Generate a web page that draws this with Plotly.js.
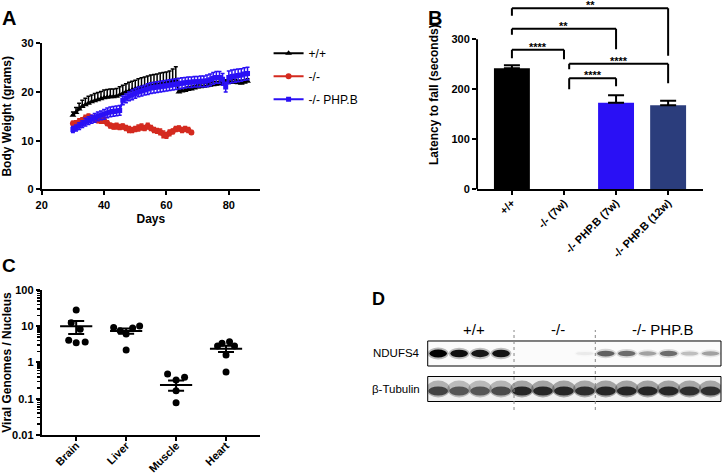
<!DOCTYPE html>
<html><head><meta charset="utf-8">
<script src="https://cdn.plot.ly/plotly-3.0.1.min.js"></script>
<style>html,body{margin:0;padding:0;background:#fff}#chart{width:722px;height:474px}</style>
</head><body><div id="chart"></div>
<script>
// ---------- Panel A: body weight ----------
const daysLong = [30,31,32,33,34,35,36,37,38,39,40,41,42,43,44,45,46,47,48,49,50,51,52,53,54,55,56,57,58,59,60,61,62,63,64,65,66,67,68,69,70,71,72,73,74,75,76,77,78,79,80,81,82,83,84,85,86];
const daysKO = [30,31,32,33,34,35,36,37,38,39,40,41,42,43,44,45,46,47,48,49,50,51,52,53,54,55,56,57,58,59,60,61,62,63,64,65,66,67,68];
const wtWeight = [15.2,15.8,16.5,17.0,17.4,17.7,18.0,18.2,18.4,18.6,18.8,18.9,19.0,19.0,19.1,19.4,19.7,20.0,20.2,20.4,20.6,20.8,21.0,21.1,21.3,21.4,21.5,21.6,21.7,21.8,21.9,22.0,22.2,22.4,20.0,20.2,20.3,20.5,20.6,20.8,21.0,21.1,21.2,21.3,21.4,21.5,21.6,21.7,21.8,21.9,22.0,22.0,22.0,21.9,21.8,22.0,22.2];
const wtErr = [0.7,1.0,1.2,1.3,1.3,1.4,1.4,1.5,1.5,1.5,1.6,1.6,1.6,1.6,1.6,1.7,1.7,1.7,1.8,1.8,1.8,1.9,1.9,2.0,2.0,2.1,2.1,2.1,2.2,2.2,2.2,2.3,2.5,2.8,0.5,0.5,0.5,0.6,0.6,0.5,0.5,0.6,0.6,0.5,0.5,0.6,0.5,0.5,0.6,0.6,0.5,0.5,0.6,0.5,0.6,0.5,0.5];
const koWeight = [13.5,13.6,13.9,14.2,14.6,14.9,14.7,14.4,14.2,14.1,14.2,13.6,13.1,12.9,13.0,12.8,12.9,12.6,12.3,12.2,12.4,12.6,12.8,12.6,13.0,12.6,12.2,12.0,11.8,11.3,11.1,11.6,11.9,12.4,12.5,12.2,12.4,12.2,11.7];
const koErr = [0.5,0.5,0.6,0.5,0.6,0.6,0.5,0.6,0.5,0.5,0.6,0.5,0.5,0.5,0.6,0.5,0.5,0.5,0.6,0.5,0.5,0.6,0.6,0.5,0.6,0.5,0.5,0.5,0.6,0.7,0.6,0.6,0.5,0.5,0.5,0.5,0.5,0.5,0.4];
const phpWeight = [12.3,12.6,13.0,13.4,13.8,14.1,14.4,14.7,15.0,15.2,15.4,15.7,15.9,16.0,16.1,16.2,18.3,18.7,19.1,19.4,19.7,20.0,20.2,20.4,20.6,20.8,20.9,21.0,21.1,21.2,21.3,21.4,21.5,21.6,21.7,21.8,21.9,22.0,22.0,22.1,22.1,22.2,22.2,22.3,22.5,22.8,23.0,23.0,22.6,21.0,23.0,23.2,23.3,23.4,23.5,23.7,23.8];
const phpErr = [0.6,0.6,0.7,0.7,0.8,0.8,0.8,0.9,0.9,0.9,1.0,1.0,1.0,1.0,1.0,1.0,0.9,0.9,0.9,1.0,1.0,1.0,1.0,1.0,1.1,1.1,1.1,1.1,1.1,1.1,1.1,1.1,1.1,1.1,1.1,1.1,1.1,1.1,1.1,1.1,1.1,1.1,1.1,1.2,1.2,1.2,1.2,1.2,1.2,1.0,1.3,1.3,1.3,1.3,1.3,1.3,1.3];
const seriesNames = ['+/+', '-/-', '-/- PHP.B'];

// ---------- Panel B: rotarod ----------
const groupsB = ['+/+', '-/- (7w)', '-/- PHP.B (7w)', '-/- PHP.B (12w)'];
const latency = [242, 0, 173, 168];
const latencyErr = [6, 0, 15, 9];
const sigFrom = [0, 0, 0, 1.1, 1.1];
const sigTo = [3, 2, 1, 3, 2];
const sigLevel = [362, 321, 279, 251, 222];
const sigLeftEnd = [347, 309, 262, 240, 200];
const sigRightEnd = [267, 280, 260, 212, 206];
const sigLabel = ['**', '**', '****', '****', '****'];

// ---------- Panel C: viral genomes ----------
const tissues = ['Brain', 'Liver', 'Muscle', 'Heart'];
const brainVG = [28, 12.5, 8.2, 4.1, 3.5, 3.7];
const brainOff = [0, -0.1, 0.08, -0.15, 0, 0.18];
const liverVG = [9.3, 7.5, 6.1, 9.0, 10.2, 2.2];
const liverOff = [-0.25, -0.12, 0, 0.13, 0.27, 0];
const muscleVG = [0.48, 0.33, 0.39, 0.166, 0.078];
const muscleOff = [-0.17, 0, 0.17, 0, 0];
const heartVG = [2.85, 3.4, 3.75, 2.85, 1.6, 0.55];
const heartOff = [-0.17, -0.08, 0.07, 0.17, 0, 0];
const vgMean = [10, 7.4, 0.24, 2.4];
const vgSemHi = [14, 8.6, 0.32, 2.9];
const vgSemLo = [6.1, 6.2, 0.165, 1.95];

// ---------- Panel D: western blot ----------
const blotGroups = ['+/+', '-/-', '-/- PHP.B'];
const blotGroupSizes = [4, 4, 6];
const ndufs4Band = [1.0, 0.92, 0.88, 0.9, 0, 0, 0, 0.05, 0.55, 0.5, 0.3, 0.5, 0.2, 0.3];
const tubulinBand = [0.7, 0.6, 0.6, 0.65, 0.85, 0.85, 0.85, 0.8, 0.85, 0.85, 0.85, 0.85, 0.8, 0.8];
const blotRows = ['NDUFS4', 'β-Tubulin'];

const FONT = 'Liberation Sans, Arial, Helvetica, sans-serif';
const BLUE = '#2a10f5', RED = '#d42a1f', NAVY = '#2b3d7c';

const traces = [];
// Panel A traces
traces.push({x: daysLong, y: wtWeight, name: seriesNames[0], type: 'scatter', mode: 'lines+markers', legendgroup: 'g1',
  line: {color: '#000', width: 2}, marker: {symbol: 'triangle-up', size: 6, color: '#000'},
  error_y: {type: 'data', array: wtErr, arrayminus: wtErr.map(() => 0), symmetric: false, color: '#000', thickness: 1.5, width: 2},
  xaxis: 'x', yaxis: 'y', showlegend: true});
traces.push({x: daysKO, y: koWeight, name: seriesNames[1], type: 'scatter', mode: 'lines+markers', legendgroup: 'g2',
  line: {color: RED, width: 2}, marker: {symbol: 'circle', size: 6, color: RED},
  error_y: {type: 'data', array: koErr, color: RED, thickness: 1.5, width: 2},
  xaxis: 'x', yaxis: 'y', showlegend: true});
traces.push({x: daysLong, y: phpWeight, name: seriesNames[2], type: 'scatter', mode: 'lines+markers', legendgroup: 'g3',
  line: {color: BLUE, width: 2}, marker: {symbol: 'square', size: 5, color: BLUE},
  error_y: {type: 'data', array: phpErr, color: BLUE, thickness: 1.5, width: 2},
  xaxis: 'x', yaxis: 'y', showlegend: true});

// Panel B bars
traces.push({x: groupsB.map((g, i) => i), y: latency, type: 'bar', width: 0.69,
  marker: {color: ['#000', '#000', BLUE, NAVY], line: {width: 0}},
  error_y: {type: 'data', array: latencyErr.map(e => e > 0 ? e : NaN), arrayminus: latencyErr.map(e => e > 0 ? 0 : NaN),
    symmetric: false, color: '#000', thickness: 2, width: 8},
  xaxis: 'x2', yaxis: 'y2', showlegend: false, hoverinfo: 'skip'});

// Panel C points
const tissueSets = [[brainVG, brainOff], [liverVG, liverOff], [muscleVG, muscleOff], [heartVG, heartOff]];
tissueSets.forEach((s, i) => {
  traces.push({x: s[1].map(o => i + o), y: s[0], type: 'scatter', mode: 'markers',
    marker: {color: '#000', size: 7}, xaxis: 'x3', yaxis: 'y3', showlegend: false, hoverinfo: 'skip'});
});
traces.push({x: tissues.map((t, i) => i), y: vgMean, type: 'scatter', mode: 'markers',
  marker: {symbol: 'line-ew-open', size: 23, color: '#000', line: {color: '#000', width: 2}},
  error_y: {type: 'data', symmetric: false, array: vgSemHi.map((v, i) => v - vgMean[i]), arrayminus: vgSemLo.map((v, i) => vgMean[i] - v), color: '#000', thickness: 2, width: 8},
  xaxis: 'x3', yaxis: 'y3', showlegend: false, hoverinfo: 'skip'});

// ---------- shapes & annotations ----------
const shapes = [];
const annotations = [];
const blk = {color: '#000', width: 2};

// panel B y-axis line (only up to 300)
shapes.push({type: 'line', xref: 'x2 domain', yref: 'y2', x0: 0, x1: 0, y0: 0, y1: 300, line: blk});
// significance brackets
sigFrom.forEach((f, k) => {
  const t = sigTo[k], lv = sigLevel[k];
  shapes.push({type: 'line', xref: 'x2', yref: 'y2', x0: f, x1: f, y0: sigLeftEnd[k], y1: lv, line: blk});
  shapes.push({type: 'line', xref: 'x2', yref: 'y2', x0: f, x1: t, y0: lv, y1: lv, line: blk});
  shapes.push({type: 'line', xref: 'x2', yref: 'y2', x0: t, x1: t, y0: lv, y1: sigRightEnd[k], line: blk});
  annotations.push({xref: 'x2', yref: 'y2', x: (f + t) / 2, y: lv, text: sigLabel[k], showarrow: false,
    yanchor: 'bottom', yshift: -5, font: {family: FONT, size: 11, weight: 'bold', color: '#000'}});
});

// panel D blot
const rowCenter = [56.5, 21];
const rowHalf = 12.5;
rowCenter.forEach((c, r) => {
  shapes.push({type: 'rect', xref: 'x4 domain', yref: 'y4', x0: 0, x1: 1, y0: c - rowHalf, y1: c + rowHalf,
    fillcolor: r === 0 ? '#fbfbfb' : '#f0f0f0', line: {width: 0}});
});
ndufs4Band.forEach((v, i) => {
  if (v > 0.01) {
    shapes.push({type: 'circle', xref: 'x4', yref: 'y4', x0: i - 0.5, x1: i + 0.5, y0: rowCenter[0] - (3 + 3 * v), y1: rowCenter[0] + (3 + 3 * v),
      fillcolor: `rgba(30,30,30,${0.3 * v})`, line: {width: 0}});
    shapes.push({type: 'circle', xref: 'x4', yref: 'y4', x0: i - 0.42, x1: i + 0.42, y0: rowCenter[0] - (1.5 + 2.5 * v), y1: rowCenter[0] + (1.5 + 2.5 * v),
      fillcolor: `rgba(0,0,0,${v})`, line: {width: 0}});
  }
});
tubulinBand.forEach((v, i) => {
  shapes.push({type: 'circle', xref: 'x4', yref: 'y4', x0: i - 0.56, x1: i + 0.56, y0: rowCenter[1] - 8.5, y1: rowCenter[1] + 8.5,
    fillcolor: `rgba(40,40,40,${0.45 * v})`, line: {width: 0}});
  shapes.push({type: 'circle', xref: 'x4', yref: 'y4', x0: i - 0.47, x1: i + 0.47, y0: rowCenter[1] - 6.5, y1: rowCenter[1] + 2.5,
    fillcolor: `rgba(0,0,0,${0.9 * v})`, line: {width: 0}});
});
rowCenter.forEach((c) => {
  shapes.push({type: 'rect', xref: 'x4 domain', yref: 'y4', x0: 0, x1: 1, y0: c - rowHalf, y1: c + rowHalf,
    fillcolor: 'rgba(0,0,0,0)', line: {color: '#000', width: 1}});
});
let start = 0;
blotGroupSizes.forEach((n, g) => {
  if (g > 0) {
    const sx = start - 0.5 + (g === 1 ? 0.12 : 0);
    shapes.push({type: 'line', xref: 'x4', yref: 'y4', x0: sx, x1: sx, y0: 0, y1: 80,
      line: {color: '#888', width: 1, dash: 'dot'}});
  }
  annotations.push({xref: 'x4', yref: 'y4', x: start + (n - 1) / 2 + 0.2, y: 80, text: blotGroups[g], showarrow: false,
    font: {family: FONT, size: 15, color: '#000'}});
  start += n;
});
blotRows.forEach((t, r) => {
  annotations.push({xref: 'x4 domain', yref: 'y4', x: -0.02, y: rowCenter[r], xanchor: 'right', text: t, showarrow: false,
    font: {family: FONT, size: 11.5, color: '#000'}});
});

// panel letters
[['A', 8.5, 17.5, 20], ['B', 435, 17.5, 20], ['C', 8.5, 265, 19], ['D', 378.5, 299, 18]].forEach(p => {
  annotations.push({xref: 'paper', yref: 'paper', x: p[1] / 722, y: 1 - p[2] / 474, text: p[0], showarrow: false,
    xanchor: 'center', yanchor: 'middle', font: {family: FONT, size: p[3], weight: 'bold', color: '#000'}});
});

const minorVals = [];
[0.01, 0.1, 1, 10].forEach(d => { for (let k = 2; k <= 9; k++) minorVals.push(+(k * d).toPrecision(3)); });

const tickFont = {family: FONT, size: 11, weight: 'bold', color: '#000'};
const titleFont = {family: FONT, size: 12, weight: 'bold', color: '#000'};
const axBase = {showgrid: false, zeroline: false, showline: true, linewidth: 2, linecolor: '#000',
  ticks: 'outside', ticklen: 4, tickwidth: 2, tickcolor: '#000', tickfont: tickFont, fixedrange: true};

const layout = {
  width: 722, height: 474, margin: {l: 0, r: 0, t: 0, b: 0},
  paper_bgcolor: '#fff', plot_bgcolor: 'rgba(0,0,0,0)',
  font: {family: FONT, color: '#000'},
  showlegend: true,
  legend: {x: 0.372, y: 0.918, xanchor: 'left', yanchor: 'top', bgcolor: 'rgba(0,0,0,0)', traceorder: 'grouped', tracegroupgap: 4,
    font: {family: FONT, size: 12, color: '#000'}, itemwidth: 30},
  xaxis: Object.assign({}, axBase, {domain: [0.0578, 0.3601], range: [20, 90], tickvals: [20, 40, 60, 80], anchor: 'y',
    title: {text: 'Days', font: titleFont, standoff: 5}}),
  yaxis: Object.assign({}, axBase, {domain: [0.6006, 0.9086], range: [0, 30], tickvals: [0, 10, 20, 30], anchor: 'x',
    title: {text: 'Body Weight (grams)', font: titleFont, standoff: 8}}),
  xaxis2: Object.assign({}, axBase, {domain: [0.6607, 0.9737], range: [-0.67, 3.67], tickvals: [0, 1, 2, 3], ticktext: groupsB,
    tickangle: -45, ticklabelstandoff: -3, anchor: 'y2'}),
  yaxis2: Object.assign({}, axBase, {domain: [0.6006, 1.0], range: [0, 378.6], tickvals: [0, 100, 200, 300], anchor: 'x2', showline: false,
    title: {text: 'Latency to fall (seconds)', font: titleFont, standoff: 10}}),
  xaxis3: Object.assign({}, axBase, {domain: [0.0578, 0.3601], range: [-0.69, 3.68], tickvals: [0, 1, 2, 3], ticktext: tissues,
    tickangle: -45, ticklabelstandoff: -6, anchor: 'y3'}),
  yaxis3: Object.assign({}, axBase, {domain: [0.0823, 0.3882], type: 'log', range: [-2, 2],
    tickvals: [0.01, 0.1, 1, 10, 100], ticktext: ['0.01', '0.1', '1', '10', '100'], anchor: 'x3',
    minor: {tickvals: minorVals, ticks: 'outside', ticklen: 3, tickwidth: 1.5, tickcolor: '#000', showgrid: false},
    title: {text: 'Viral Genomes / Nucleus', font: titleFont, standoff: 2}}),
  xaxis4: {domain: [0.5924, 0.9986], range: [-0.5, 13.5], visible: false, anchor: 'y4', fixedrange: true},
  yaxis4: {domain: [0.1350, 0.3038], range: [0, 80], visible: false, anchor: 'x4', fixedrange: true},
  shapes: shapes,
  annotations: annotations
};

Plotly.newPlot('chart', traces, layout, {displayModeBar: false, staticPlot: true});
</script>
</body></html>
